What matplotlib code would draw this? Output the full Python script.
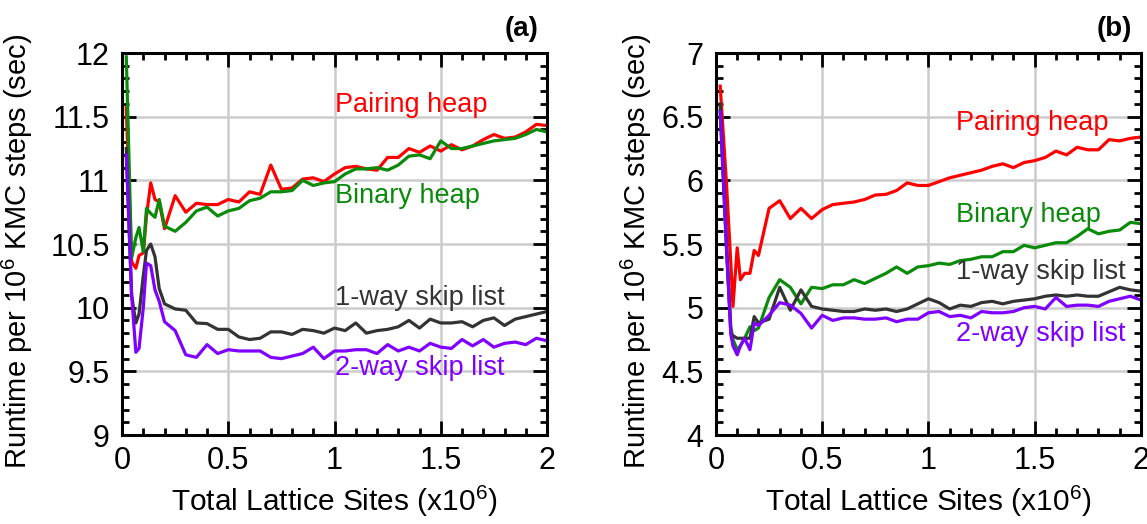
import matplotlib
matplotlib.use("Agg")
import matplotlib.pyplot as plt
from matplotlib.ticker import MultipleLocator, FuncFormatter

plt.rcParams['font.family'] = ['Liberation Sans', 'DejaVu Sans']
plt.rcParams['mathtext.fontset'] = 'custom'
plt.rcParams['mathtext.rm'] = 'Liberation Sans'
plt.rcParams['mathtext.it'] = 'Liberation Sans'

# panel (a) data
x_a = [0.02, 0.045, 0.065, 0.08, 0.1, 0.115, 0.135, 0.155, 0.175, 0.2,
       0.25, 0.3, 0.35, 0.4, 0.45, 0.5, 0.55, 0.6, 0.65, 0.7, 0.75, 0.8,
       0.85, 0.9, 0.95, 1.0, 1.05, 1.1, 1.15, 1.2, 1.25, 1.3, 1.35, 1.4,
       1.45, 1.5, 1.55, 1.6, 1.65, 1.7, 1.75, 1.8, 1.85, 1.9, 1.95, 2.0]
pairing_a = [11.57, 10.36, 10.31, 10.41, 10.43, 10.72, 10.98, 10.85, 10.83, 10.62,
             10.88, 10.75, 10.82, 10.81, 10.81, 10.85, 10.83, 10.91, 10.89, 11.12,
             10.93, 10.94, 11.01, 11.02, 10.99, 11.05, 11.10, 11.11, 11.09, 11.08,
             11.18, 11.18, 11.25, 11.22, 11.27, 11.23, 11.28, 11.24, 11.27, 11.32,
             11.36, 11.33, 11.34, 11.38, 11.44, 11.43]
binary_a = [11.97, 10.39, 10.55, 10.63, 10.44, 10.78, 10.74, 10.71, 10.85, 10.64,
            10.60, 10.67, 10.76, 10.79, 10.72, 10.76, 10.78, 10.84, 10.86, 10.91,
            10.91, 10.92, 11.00, 10.96, 10.98, 10.99, 11.05, 11.09, 11.09, 11.10,
            11.08, 11.12, 11.19, 11.20, 11.17, 11.31, 11.25, 11.25, 11.27, 11.29,
            11.31, 11.32, 11.33, 11.36, 11.40, 11.38]
skip1_a = [11.25, 10.10, 9.88, 9.95, 10.25, 10.45, 10.50, 10.40, 10.15, 10.03,
           9.99, 9.98, 9.88, 9.875, 9.83, 9.83, 9.77, 9.75, 9.76, 9.81,
           9.81, 9.79, 9.83, 9.82, 9.80, 9.84, 9.82, 9.88, 9.80, 9.82,
           9.83, 9.85, 9.90, 9.84, 9.91, 9.88, 9.88, 9.89, 9.85, 9.90,
           9.92, 9.86, 9.91, 9.93, 9.95, 9.97]
skip2_a = [11.20, 10.10, 9.65, 9.68, 10.00, 10.35, 10.33, 10.14, 10.05, 9.89,
           9.82, 9.63, 9.61, 9.71, 9.64, 9.67, 9.66, 9.66, 9.66, 9.61,
           9.60, 9.62, 9.64, 9.69, 9.60, 9.66, 9.66, 9.67, 9.67, 9.64,
           9.71, 9.66, 9.69, 9.66, 9.72, 9.69, 9.68, 9.75, 9.70, 9.75,
           9.69, 9.72, 9.73, 9.71, 9.76, 9.74]

# panel (b) data
x_b = [0.02, 0.05, 0.07, 0.08, 0.1, 0.115, 0.135, 0.16, 0.18, 0.2,
       0.25, 0.3, 0.35, 0.4, 0.45, 0.5, 0.55, 0.6, 0.65, 0.7, 0.75, 0.8,
       0.85, 0.9, 0.95, 1.0, 1.05, 1.1, 1.15, 1.2, 1.25, 1.3, 1.35, 1.4,
       1.45, 1.5, 1.55, 1.6, 1.65, 1.7, 1.75, 1.8, 1.85, 1.9, 1.95, 2.0]
pairing_b = [6.74, 5.96, 5.35, 5.01, 5.47, 5.22, 5.27, 5.27, 5.45, 5.41,
             5.78, 5.84, 5.70, 5.78, 5.70, 5.77, 5.81, 5.82, 5.83, 5.85,
             5.885, 5.89, 5.92, 5.98, 5.96, 5.96, 5.99, 6.02, 6.04, 6.06,
             6.08, 6.11, 6.13, 6.10, 6.14, 6.155, 6.18, 6.23, 6.20, 6.26,
             6.24, 6.24, 6.32, 6.31, 6.33, 6.34]
binary_b = [6.55, 5.45, 4.85, 4.75, 4.67, 4.70, 4.76, 4.85, 4.82, 4.84,
            5.08, 5.22, 5.16, 5.03, 5.16, 5.15, 5.18, 5.18, 5.22, 5.19,
            5.23, 5.27, 5.32, 5.27, 5.32, 5.33, 5.35, 5.34, 5.37, 5.38,
            5.40, 5.40, 5.44, 5.44, 5.49, 5.47, 5.49, 5.51, 5.51, 5.56,
            5.62, 5.58, 5.60, 5.61, 5.67, 5.66]
skip1_b = [6.60, 5.50, 4.80, 4.78, 4.76, 4.76, 4.76, 4.76, 4.93, 4.88,
           4.91, 5.16, 4.98, 5.14, 5.01, 4.99, 4.98, 4.97, 4.97, 4.99,
           4.98, 4.99, 4.97, 4.99, 5.03, 5.07, 5.04, 4.99, 5.02, 5.01,
           5.04, 5.05, 5.03, 5.05, 5.06, 5.07, 5.09, 5.10, 5.09, 5.10,
           5.09, 5.09, 5.125, 5.16, 5.14, 5.13]
skip2_b = [6.54, 5.45, 4.79, 4.70, 4.63, 4.70, 4.76, 4.67, 4.88, 4.86,
           4.94, 5.04, 5.02, 4.955, 4.84, 4.94, 4.90, 4.92, 4.92, 4.91,
           4.91, 4.92, 4.89, 4.91, 4.91, 4.96, 4.97, 4.93, 4.94, 4.92,
           4.97, 4.96, 4.96, 4.97, 5.00, 5.01, 4.99, 5.08, 5.01, 5.02,
           5.02, 5.01, 5.05, 5.07, 5.09, 5.06]

names = ['Pairing heap', 'Binary heap', '1-way skip list', '2-way skip list']
colors = ['#ff0000', '#0a8a0a', '#333333', '#7f00ff']

# label positions (data coords) for each panel
label_pos_a = [(1.0, 11.59), (1.0, 10.88), (1.0, 10.08), (1.0, 9.53)]
label_pos_b = [(1.13, 6.45), (1.13, 5.73), (1.13, 5.28), (1.13, 4.79)]

fig = plt.figure(figsize=(11.47, 5.24), dpi=100)
ax_a = fig.add_axes([0.1064, 0.1698, 0.3705, 0.729])
ax_b = fig.add_axes([0.6242, 0.1698, 0.3705, 0.729])

fmt = FuncFormatter(lambda v, p: '%g' % v)


def setup_axes(ax, ylim, panel, ylab_x):
    ax.set_xlim(0, 2)
    ax.set_ylim(*ylim)
    ax.xaxis.set_major_locator(MultipleLocator(0.5))
    ax.xaxis.set_minor_locator(MultipleLocator(0.1))
    ax.yaxis.set_major_locator(MultipleLocator(0.5))
    ax.yaxis.set_minor_locator(MultipleLocator(0.1))
    ax.xaxis.set_major_formatter(fmt)
    ax.yaxis.set_major_formatter(fmt)
    ax.tick_params(which='both', direction='in', top=True, right=True,
                   labelsize=22, width=2)
    ax.tick_params(which='major', length=10)
    ax.tick_params(which='minor', length=5)
    ax.tick_params(axis='x', pad=8)
    ax.tick_params(axis='y', pad=9)
    for s in ax.spines.values():
        s.set_linewidth(2.2)
    ax.grid(True, which='major', color='#cccccc', linewidth=1.8)
    ax.set_axisbelow(True)
    ax.set_xlabel(r'Total Lattice Sites (x10$^6$)', fontsize=21.5)
    ax.xaxis.set_label_coords(0.5, -0.128)
    ax.set_ylabel(r'Runtime per 10$^6$ KMC steps (sec)', fontsize=21)
    ax.yaxis.set_label_coords(ylab_x, 0.48)
    ax.text(0.98, 1.03, panel, transform=ax.transAxes, ha='right',
            va='bottom', fontsize=20, fontweight='bold')


setup_axes(ax_a, (9, 12), '(a)', -0.205)
setup_axes(ax_b, (4, 7), '(b)', -0.145)

for ax, x, series, pos in [(ax_a, x_a, [pairing_a, binary_a, skip1_a, skip2_a], label_pos_a),
                           (ax_b, x_b, [pairing_b, binary_b, skip1_b, skip2_b], label_pos_b)]:
    for y, c, name, (tx, ty) in zip(series, colors, names, pos):
        ax.plot(x, y, color=c, linewidth=2.3)
        ax.text(tx, ty, name, color=c, fontsize=19.5, va='center', ha='left')

fig.savefig('out.png', dpi=100)
